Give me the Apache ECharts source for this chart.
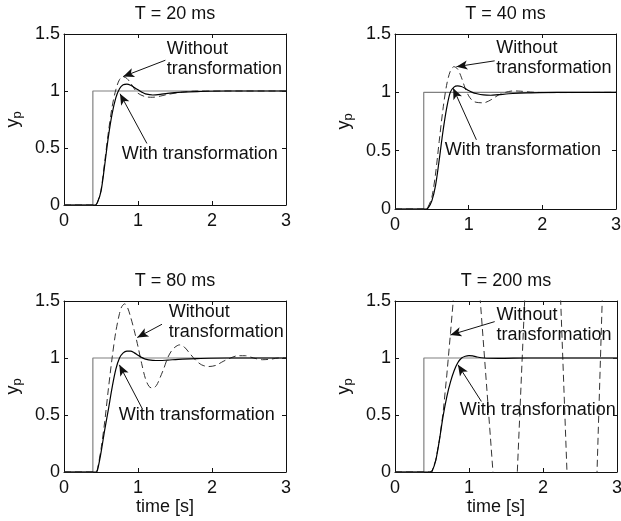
<!DOCTYPE html>
<html><head><meta charset="utf-8">
<script src="https://cdn.jsdelivr.net/npm/echarts@6/dist/echarts.min.js"></script>
<style>html,body{margin:0;padding:0;background:#fff}#c{width:621px;height:521px}</style>
</head><body><div id="c"></div>
<script>
// ---------- data ----------
const panelTitles = ['T = 20 ms', 'T = 40 ms', 'T = 80 ms', 'T = 200 ms'];
const xLabelText = 'time [s]';
const labelWithout = 'Without\ntransformation';
const labelWith = 'With transformation';

// reference step input (same in all panels)
const stepInput = [[0,0],[0.39,0],[0.39,1],[3,1]];

// T = 20 ms
const withT20 = [[0,0],[0.4,0],[0.42,0],[0.45,0.02],[0.5,0.12],[0.55,0.35],[0.6,0.6],[0.65,0.8],[0.7,0.94],[0.75,1.02],[0.8,1.055],[0.85,1.06],[0.9,1.05],[0.95,1.03],[1.0,1.01],[1.05,0.99],[1.1,0.975],[1.2,0.965],[1.3,0.97],[1.4,0.98],[1.6,0.99],[1.8,0.995],[2.2,1.0],[3,1.0]];
const withoutT20 = [[0,0],[0.4,0],[0.42,0],[0.45,0.02],[0.5,0.13],[0.55,0.38],[0.6,0.64],[0.65,0.86],[0.7,1.01],[0.75,1.1],[0.8,1.125],[0.85,1.11],[0.9,1.07],[0.95,1.02],[1.0,0.98],[1.1,0.95],[1.2,0.945],[1.3,0.955],[1.4,0.97],[1.6,0.99],[1.8,1.0],[3,1.0]];

// T = 40 ms
const withT40 = [[0,0],[0.4,0],[0.42,0],[0.45,0.01],[0.5,0.07],[0.55,0.2],[0.6,0.42],[0.65,0.66],[0.7,0.86],[0.75,1.0],[0.8,1.045],[0.85,1.055],[0.9,1.05],[0.95,1.035],[1.0,1.015],[1.05,1.0],[1.1,0.99],[1.2,0.978],[1.3,0.975],[1.4,0.98],[1.6,0.99],[1.8,0.995],[2.2,1.0],[3,1.0]];
const withoutT40 = [[0,0],[0.4,0],[0.42,0],[0.45,0.02],[0.5,0.1],[0.55,0.3],[0.6,0.58],[0.65,0.85],[0.7,1.06],[0.75,1.18],[0.8,1.22],[0.85,1.2],[0.9,1.13],[0.95,1.04],[1.0,0.97],[1.05,0.93],[1.1,0.915],[1.2,0.91],[1.3,0.935],[1.4,0.975],[1.5,1.0],[1.6,1.012],[1.7,1.01],[1.9,1.0],[2.2,0.998],[3,1.0]];

// T = 80 ms
const withT80 = [[0,0],[0.41,0],[0.43,0],[0.45,0.01],[0.5,0.17],[0.55,0.37],[0.6,0.55],[0.65,0.74],[0.7,0.9],[0.75,1.0],[0.8,1.045],[0.85,1.06],[0.9,1.06],[0.95,1.045],[1.0,1.025],[1.05,1.005],[1.1,0.99],[1.2,0.98],[1.3,0.978],[1.4,0.982],[1.6,0.99],[1.8,0.995],[2.2,1.0],[3,1.0]];
const withoutT80 = [[0,0],[0.41,0],[0.43,0],[0.45,0.02],[0.5,0.2],[0.55,0.44],[0.6,0.73],[0.65,1.0],[0.7,1.23],[0.75,1.39],[0.78,1.45],[0.82,1.475],[0.86,1.44],[0.9,1.36],[0.95,1.24],[1.0,1.1],[1.05,0.95],[1.1,0.82],[1.15,0.75],[1.2,0.735],[1.25,0.76],[1.3,0.83],[1.35,0.91],[1.4,1.0],[1.45,1.06],[1.5,1.095],[1.56,1.115],[1.62,1.1],[1.7,1.04],[1.78,0.98],[1.86,0.94],[1.95,0.925],[2.05,0.935],[2.15,0.97],[2.25,1.0],[2.35,1.02],[2.45,1.02],[2.56,1.0],[2.68,0.985],[2.8,0.99],[2.9,1.0],[3,1.0]];

// T = 200 ms
const withT200 = [[0,0],[0.46,0],[0.48,0],[0.5,0.005],[0.55,0.1],[0.6,0.28],[0.65,0.49],[0.7,0.66],[0.75,0.79],[0.8,0.89],[0.85,0.96],[0.9,1.0],[0.95,1.015],[1.0,1.02],[1.05,1.018],[1.1,1.01],[1.2,1.0],[1.4,0.997],[1.8,1.0],[3,1.0]];
const withoutT200 = [[0,0],[0.47,0],[0.5,0.01],[0.55,0.1],[0.6,0.28],[0.65,0.52],[0.7,0.85],[0.75,1.22],[0.8,1.6],[0.97,3.4],[1.153,1.5],[1.324,0],[1.49,-2.6],[1.653,0],[1.752,1.5],[2.0,5.2],[2.239,1.5],[2.324,0],[2.53,-6.4],[2.73,0],[2.8,1.5],[3.0,7.5]];

const withSets = [withT20, withT40, withT80, withT200];
const withoutSets = [withoutT20, withoutT40, withoutT80, withoutT200];

// annotation anchors (data coordinates): text left/middle, arrow tail -> tip
const noteWithoutPos = [[1.39,1.28],[1.376,1.29],[1.414,1.318],[1.37,1.29]];
const noteWithPos = [[0.78,0.45],[0.677,0.507],[0.739,0.5],[0.874,0.54]];
const arrowWithout = [[[1.37,1.27],[0.80,1.127]],[[1.353,1.27],[0.834,1.22]],[[1.324,1.296],[0.99,1.18]],[[1.347,1.319],[0.748,1.202]]];
const arrowWith = [[[1.12,0.54],[0.757,0.976]],[[1.105,0.593],[0.79,1.035]],[[1.054,0.56],[0.748,0.94]],[[1.167,0.619],[0.851,0.94]]];

// ---------- layout / style ----------
const FONT = '"Liberation Sans", Arial, Helvetica, sans-serif';
const INK = '#111';
const grids = [
  {left:64, top:34, width:222, height:171},
  {left:395, top:34, width:221, height:175},
  {left:64, top:301, width:222, height:171},
  {left:395, top:301, width:222, height:171}
];
const lineSt = {color: INK, width: 1};
const tickSt = {show:true, inside:true, length:4, lineStyle: lineSt};

const xAxes = [], yAxes = [], series = [];
grids.forEach((g, i) => {
  xAxes.push({
    type:'value', gridIndex:i, min:0, max:3, interval:1, position:'bottom',
    axisLine:{show:true, onZero:false, lineStyle:lineSt}, axisTick:tickSt,
    axisLabel:{show:true, color:INK, fontSize:18, fontFamily:FONT, margin:7},
    splitLine:{show:false},
    name: i >= 2 ? xLabelText : '', nameLocation:'middle', nameGap:26,
    nameTextStyle:{color:INK, fontSize:18, fontFamily:FONT, padding:[0,20,0,0]}
  });
  xAxes.push({
    type:'value', gridIndex:i, min:0, max:3, interval:1, position:'top',
    axisLine:{show:true, onZero:false, lineStyle:lineSt}, axisTick:tickSt,
    axisLabel:{show:false}, splitLine:{show:false},
    name: panelTitles[i], nameLocation:'middle', nameGap:11,
    nameTextStyle:{color:INK, fontSize:18, fontFamily:FONT}
  });
  yAxes.push({
    type:'value', gridIndex:i, min:0, max:1.5, interval:0.5, position:'left',
    axisLine:{show:true, onZero:false, lineStyle:lineSt}, axisTick:tickSt,
    axisLabel:{show:true, color:INK, fontSize:18, fontFamily:FONT, margin:4},
    splitLine:{show:false},
    name:'{y|y}{p|p}', nameLocation:'middle', nameGap:40, nameRotate:90,
    nameTextStyle:{color:INK, fontFamily:FONT, rich:{
      y:{fontSize:18, fontFamily:FONT, color:INK},
      p:{fontSize:13, fontFamily:FONT, color:INK, padding:[9,0,0,0]}
    }}
  });
  yAxes.push({
    type:'value', gridIndex:i, min:0, max:1.5, interval:0.5, position:'right',
    axisLine:{show:true, onZero:false, lineStyle:lineSt}, axisTick:tickSt,
    axisLabel:{show:false}, splitLine:{show:false}
  });

  const xi = i*2, yi = i*2;
  series.push({
    type:'line', xAxisIndex:xi, yAxisIndex:yi, data:stepInput, symbol:'none',
    lineStyle:{color:'#808080', width:1.2}, silent:true, clip:true, z:2
  });
  series.push({
    type:'line', xAxisIndex:xi, yAxisIndex:yi, data:withoutSets[i], symbol:'none',
    smooth: i === 3 ? false : 0.3,
    lineStyle:{color:'#333', width:1, type:[7,4]}, silent:true, clip:true, z:3
  });
  series.push({
    type:'line', xAxisIndex:xi, yAxisIndex:yi, data:withSets[i], symbol:'none',
    smooth:0.3, lineStyle:{color:'#000', width:1.2}, silent:true, clip:true, z:4,
    markPoint:{
      symbol:'circle', symbolSize:0, silent:true, animation:false,
      itemStyle:{color:'rgba(0,0,0,0)'},
      label:{show:true, position:'right', distance:0, color:INK, fontSize:18,
             fontFamily:FONT, lineHeight:20, align:'left', verticalAlign:'middle'},
      data:[
        {coord:noteWithoutPos[i], label:{formatter:labelWithout}},
        {coord:noteWithPos[i], label:{formatter:labelWith}}
      ]
    },
    markLine:{
      silent:true, animation:false, symbol:['none','arrow'], symbolSize:[7,11],
      lineStyle:{color:INK, width:1, type:'solid'}, label:{show:false},
      emphasis:{disabled:true},
      data:[
        [{coord:arrowWithout[i][0]},{coord:arrowWithout[i][1]}],
        [{coord:arrowWith[i][0]},{coord:arrowWith[i][1]}]
      ]
    }
  });
});

const chart = echarts.init(document.getElementById('c'), null, {renderer:'canvas'});
chart.setOption({
  animation:false,
  backgroundColor:'#fff',
  textStyle:{fontFamily:FONT},
  grid: grids.map(g => Object.assign({outerBoundsMode:'none', containLabel:false}, g)),
  xAxis: xAxes,
  yAxis: yAxes,
  series: series
});
</script>
</body></html>
